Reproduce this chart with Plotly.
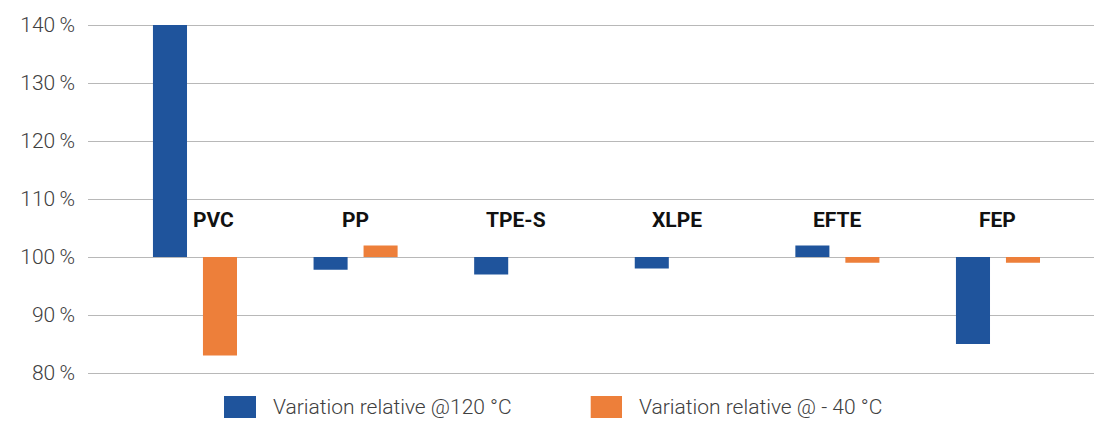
import plotly.graph_objects as go

categories = ["PVC", "PP", "TPE-S", "XLPE", "EFTE", "FEP"]
series_names = ["Variation relative @120 °C", "Variation relative @ - 40 °C"]
values_120 = [140, 97.8, 97, 98, 102, 85]
values_m40 = [83, 102, None, None, 99, 99]
tick_vals = [80, 90, 100, 110, 120, 130, 140]
tick_text = ["80\u2009%", "90\u2009%", "100\u2009%", "110\u2009%", "120\u2009%", "130\u2009%", "140\u2009%"]

BASE = 100
colors = ["#1F549C", "#ED7F3A"]
bar_w = 0.212
offsets = [-0.2615, 0.0498]

fig = go.Figure()
for vals, name, col, off in zip([values_120, values_m40], series_names, colors, offsets):
    xs = [c for c, v in zip(categories, vals) if v is not None]
    ys = [v - BASE for v in vals if v is not None]
    fig.add_trace(go.Bar(
        x=xs, y=ys, base=BASE, name=name,
        marker=dict(color=col, line=dict(width=0)),
        width=bar_w, offset=off, showlegend=False,
    ))

# category labels
for i, c in enumerate(categories):
    fig.add_annotation(
        x=c, y=106.35, text=f"<b>{c}</b>", showarrow=False,
        xshift=19 if i == 0 else 0,
        font=dict(family="Roboto, Arial, sans-serif", size=21, color="#111111"),
    )

# legend (manual, large swatches)
PH = 352.0
def py(px):
    return (375.0 - px) / PH

leg_items = [
    (0.1352, 0.1670, 0.1816),
    (0.4997, 0.5308, 0.5454),
]
for (x0, x1, xt), name, col in zip(leg_items, series_names, colors):
    fig.add_shape(type="rect", xref="paper", yref="paper",
                  x0=x0, x1=x1, y0=py(418), y1=py(396),
                  fillcolor=col, line=dict(width=0))
    fig.add_annotation(xref="paper", yref="paper", x=xt, y=py(407),
                       xanchor="left", yanchor="middle", text=name, showarrow=False,
                       font=dict(family="Roboto, Arial, sans-serif", size=21,
                                 color="#404040", weight=300))

fig.update_layout(
    width=1094, height=423,
    margin=dict(l=88, r=0, t=23, b=48),
    paper_bgcolor="white", plot_bgcolor="white",
    barmode="overlay",
    showlegend=False,
    xaxis=dict(type="category", range=[-0.666, 5.598], showticklabels=False,
               showgrid=False, zeroline=False, showline=False, ticks=""),
    yaxis=dict(range=[79.655, 140.345], tickvals=tick_vals, ticktext=tick_text,
               showgrid=True, gridcolor="#B8B8B8", gridwidth=1.3,
               zeroline=False, showline=False, ticks="", ticklabelstandoff=12,
               tickfont=dict(family="Roboto, Arial, sans-serif", size=21,
                             color="#404040", weight=300)),
)

fig.write_html("out.html", config={"displayModeBar": False},
               post_script="document.body.style.margin='0';document.body.style.overflow='hidden';")
